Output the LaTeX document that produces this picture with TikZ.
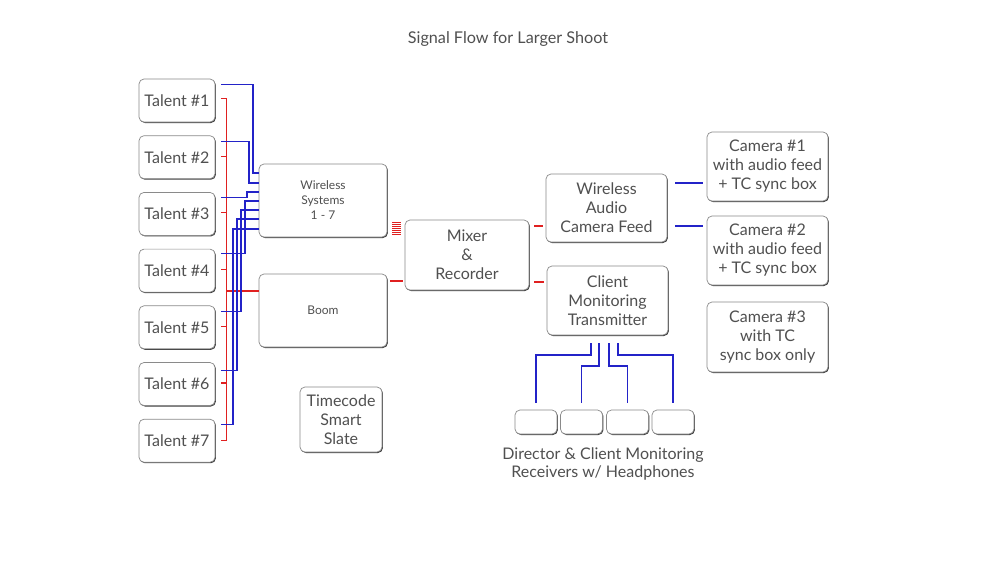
\documentclass[tikz,border=0pt]{standalone}
\usepackage{fontspec}
\setmainfont{Lato}
\usetikzlibrary{shadows}
\definecolor{txt}{HTML}{505050}
\definecolor{bord}{HTML}{8A8A8A}
\definecolor{wblue}{HTML}{2323C8}
\definecolor{wred}{HTML}{E02020}
\begin{document}
\begin{tikzpicture}[x=1pt,y=-1pt,
 box/.style={draw=bord, line width=0.7pt, rounded corners=5pt, fill=white, align=center, text=txt,
   font=\fontsize{16}{19}\selectfont, inner sep=0pt,
   drop shadow={shadow xshift=0.9pt, shadow yshift=-1pt, fill=black!75, opacity=1}},
 lbl/.style={text=txt, align=center, font=\fontsize{16}{18.5}\selectfont},
 bl/.style={draw=wblue, line width=1.1pt},
 rd/.style={draw=wred, line width=1.1pt}]
\useasboundingbox[fill=white] (0,0) rectangle (1000,563);

\node[lbl, font=\fontsize{16.2}{18}\selectfont] (title) at (508,39) {Signal Flow for Larger Shoot};

% talents
\foreach \i/\y in {1/100.5,2/157.2,3/213.9,4/270.6,5/327.3,6/384,7/440.7}
  \node[box, minimum width=76pt, minimum height=43pt] (t\i) at (177,\y) {Talent \#\i};

\node[box, minimum width=128pt, minimum height=73pt, font=\fontsize{12}{15}\selectfont] (ws) at (323,200.5) {Wireless\\Systems\\1 - 7};
\node[box, minimum width=128pt, minimum height=73pt, font=\fontsize{12}{15}\selectfont] (boom) at (323,310.5) {Boom};
\node[box, minimum width=82pt, minimum height=65pt] (tc) at (341,419.5) {Timecode\\Smart\\Slate};
\node[box, minimum width=124pt, minimum height=70pt] (mix) at (467,255) {Mixer\\\&\\Recorder};
\node[box, minimum width=121pt, minimum height=68pt] (wacf) at (606.5,208) {Wireless\\Audio\\Camera Feed};
\node[box, minimum width=121pt, minimum height=69pt] (cmt) at (607.5,300.5) {Client\\Monitoring\\Transmitter};
\node[box, minimum width=121pt, minimum height=69pt] (c1) at (767.5,166.5) {Camera \#1\\with audio feed\\+ TC sync box};
\node[box, minimum width=121pt, minimum height=69pt] (c2) at (767.5,250.5) {Camera \#2\\with audio feed\\+ TC sync box};
\node[box, minimum width=121pt, minimum height=70pt] (c3) at (767.5,337) {Camera \#3\\with TC\\sync box only};

\foreach \i/\x in {1/536,2/581.5,3/627.5,4/673}
  \node[box, minimum width=42pt, minimum height=24pt] (r\i) at (\x,422) {};
\node[lbl] (cap) at (603,464) {Director \& Client Monitoring\\Receivers w/ Headphones};

% red audio (boom) bus
\draw[rd] ([xshift=6pt,yshift=2pt]t1.east) -- ++(5,0) |- ([xshift=6pt]t7.east);
\foreach \i in {2,...,6} \draw[rd] ([xshift=6pt,yshift=1pt]t\i.east) -- ++(5,0);
\draw[rd] (226,291) -- (boom.west |- 0,291);

% blue wireless feeds
\draw[bl] ([xshift=6pt,yshift=-6pt]t1.north east) -| (253,173) -- (ws.west |- 0,173);
\draw[bl] ([xshift=6pt,yshift=-6pt]t2.north east) -| (249,183) -- (ws.west |- 0,183);
\draw[bl] ([xshift=6pt,yshift=-5pt]t3.north east) -| (247,192) -- (ws.west |- 0,192);
\draw[bl] ([xshift=6pt,yshift=-5pt]t4.north east) -| (245,201) -- (ws.west |- 0,201);
\draw[bl] ([xshift=6pt,yshift=-6pt]t5.north east) -| (241,210) -- (ws.west |- 0,210);
\draw[bl] ([xshift=6pt,yshift=-8pt]t6.north east) -| (237,219) -- (ws.west |- 0,219);
\draw[bl] ([xshift=6pt,yshift=-6pt]t7.north east) -| (233,229) -- (ws.west |- 0,229);

% wireless -> mixer bundle
\foreach \k in {0,...,6} \draw[wred, line width=1pt] (392,{222.5+2*\k}) -- (401,{222.5+2*\k});
% boom -> mixer
\draw[rd] ([xshift=3pt]boom.east |- 0,281) -- ([xshift=-2pt]mix.west |- 0,281);
% mixer -> outputs
\draw[rd] ([xshift=5pt]mix.east |- 0,226) -- ([xshift=-3pt]wacf.west |- 0,226);
\draw[rd] ([xshift=5pt]mix.east |- 0,282) -- ([xshift=-3pt]cmt.west |- 0,282);
% camera feeds
\draw[bl] ([xshift=8pt]wacf.east |- 0,183) -- ([xshift=-4pt]c1.west |- 0,183);
\draw[bl] ([xshift=8pt]wacf.east |- 0,226) -- ([xshift=-4pt]c1.west |- 0,226);

% monitoring transmitter -> receivers
\draw[bl] (591,343) -- (591,355) -| ([yshift=7pt]r1.north);
\draw[bl] (599,343) -- (599,366) -| ([yshift=7pt]r2.north);
\draw[bl] (609,343) -- (609,366) -| ([yshift=7pt]r3.north);
\draw[bl] (618,343) -- (618,355) -| ([yshift=7pt]r4.north);
\end{tikzpicture}
\end{document}
